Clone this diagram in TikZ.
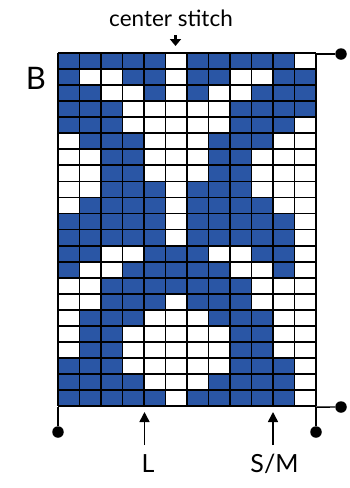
\documentclass[tikz,border=0pt]{standalone}
\usepackage{fontspec}
\setmainfont{Lato}
\usetikzlibrary{arrows.meta}
\definecolor{chartblue}{HTML}{2A56A5}
\tikzset{
  cellblue/.style={fill=chartblue},
  cellwhite/.style={fill=white},
  gridline/.style={line width=1.8pt, black},
  frameline/.style={line width=1.4pt, black},
  enddot/.style={circle, fill=black, inner sep=0pt, minimum size=11.5pt},
  sizearrow/.style={line width=1.6pt, -{Triangle[width=10pt,length=10pt]}},
  markarrow/.style={line width=2.2pt, -{Triangle[width=11pt,length=7pt]}},
  lbl/.style={inner sep=0pt, anchor=base}
}
\begin{document}
\begin{tikzpicture}[x=1pt,y=-1pt]
\useasboundingbox (0,0) rectangle (350,488);
\def\xo{58}\def\cw{21.5}\def\yo{53}\def\rh{16.05}
% cells
\foreach \rowlist [count=\r] in {
 {1,1,1,1,1,0,1,1,1,1,1,0},
 {1,0,0,1,1,0,1,1,0,0,1,1},
 {1,1,0,0,1,0,1,0,0,1,1,1},
 {1,1,1,0,0,0,0,0,1,1,1,1},
 {1,1,1,0,0,0,0,0,1,1,1,0},
 {0,1,1,1,0,0,0,1,1,1,0,0},
 {0,0,1,1,0,0,0,1,1,0,0,0},
 {0,0,1,1,0,0,0,1,1,0,0,0},
 {0,0,1,1,1,0,1,1,1,0,0,0},
 {0,1,1,1,1,0,1,1,1,1,0,0},
 {1,1,1,1,1,0,1,1,1,1,1,0},
 {1,1,1,1,1,0,1,1,1,1,1,0},
 {1,1,0,0,1,1,1,0,0,1,1,0},
 {1,0,0,1,1,1,1,1,0,0,1,0},
 {0,0,1,1,1,1,1,1,1,0,0,0},
 {0,0,1,1,1,0,1,1,1,0,0,0},
 {0,1,1,1,0,0,0,1,1,1,0,0},
 {0,1,1,0,0,0,0,0,1,1,0,0},
 {0,1,1,0,0,0,0,0,1,1,0,0},
 {1,1,1,0,0,0,0,0,1,1,1,0},
 {1,1,1,1,0,0,0,1,1,1,1,0},
 {1,1,1,1,1,0,1,1,1,1,1,0}}{
  \foreach \v [count=\k] in \rowlist {
    \ifnum\v=1
      \fill[cellblue] ({\xo+(\k-1)*\cw},{\yo+(\r-1)*\rh}) rectangle ++(\cw,\rh);
    \fi
  }
}
% grid lines
\foreach \k in {0,...,12}
  \draw[gridline] ({\xo+\k*\cw},\yo) -- ({\xo+\k*\cw},{\yo+22*\rh});
\foreach \r in {0,...,22}
  \draw[gridline] (\xo,{\yo+\r*\rh}) -- ({\xo+12*\cw},{\yo+\r*\rh});
% frame coordinates
\coordinate (gTR) at ({\xo+12*\cw},54);
\coordinate (gBL) at (\xo,{\yo+22*\rh+1});
\coordinate (gBR) at ({\xo+12*\cw},{\yo+22*\rh+1});
\node[enddot] (dTR) at (341,54) {};
\node[enddot] (dBR) at (341,407) {};
\node[enddot] (dBL) at (58,432) {};
\node[enddot] (dBM) at ({\xo+12*\cw},432) {};
\draw[frameline] (gBL) -- (dBL);
\draw[frameline] (gBR) -- (dBM);
\draw[frameline] (gTR) -- (dTR);
\draw[frameline] (gBR) -- (dBR);
% center stitch marker
\coordinate (cmA) at (175.5,35);
\coordinate (cmB) at (175.5,46);
\draw[markarrow] (cmA) -- (cmB);
\node[lbl] (ctext) at (171,26) {\fontsize{22.5}{27}\selectfont center stitch};
% B label
\node[lbl] (blabel) at (36,89) {\fontsize{31}{36}\selectfont B};
% size arrows
\coordinate (lA) at (144.5,445);
\coordinate (lB) at (144.5,412);
\coordinate (sA) at (273,445);
\coordinate (sB) at (273,412);
\draw[sizearrow] (lA) -- (lB);
\draw[sizearrow] (sA) -- (sB);
\node[lbl] (ltext) at (148,472) {\fontsize{25}{30}\selectfont L};
\node[lbl] (stext) at (274.5,472) {\fontsize{25}{30}\selectfont S/M};
\end{tikzpicture}
\end{document}
